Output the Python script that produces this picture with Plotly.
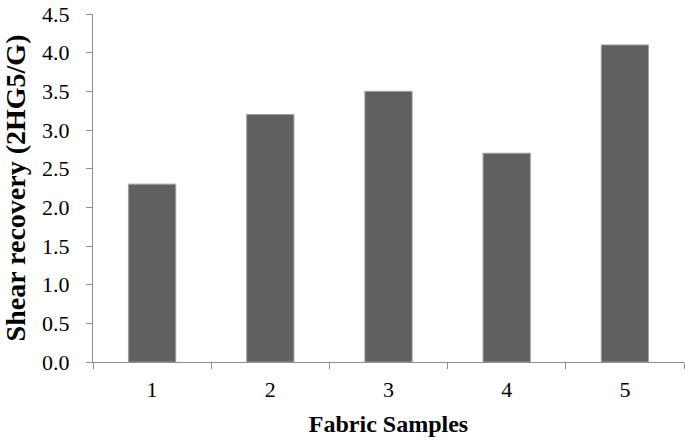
import plotly.graph_objects as go

samples = ["1", "2", "3", "4", "5"]
shear_recovery = [2.3, 3.2, 3.5, 2.7, 4.1]

fig = go.Figure()
fig.add_trace(go.Bar(
    x=samples, y=shear_recovery,
    marker=dict(color='#606060', line=dict(color='#a0a0a0', width=1)),
))

serif = 'Liberation Serif'
tick_font = dict(family=serif, size=22, color='black')

fig.update_layout(
    width=685, height=441,
    margin=dict(l=93, r=1, t=14, b=79),
    plot_bgcolor='white', paper_bgcolor='white',
    bargap=0.6,
    showlegend=False,
    font=dict(family=serif, size=22, color='black'),
    xaxis=dict(
        type='category', tickson='boundaries', automargin=False,
        ticks='outside', ticklen=6, tickcolor='#8c8c8c',
        showline=True, linecolor='#8c8c8c', linewidth=1,
        showgrid=False,
        tickfont=tick_font, ticklabelstandoff=8,
        title=dict(text='<b>Fabric Samples</b>', standoff=13,
                   font=dict(family=serif, size=24, color='black')),
    ),
    yaxis=dict(
        range=[0, 4.5], dtick=0.5, tickformat='.1f', automargin=False,
        ticks='outside', ticklen=6, tickcolor='#8c8c8c',
        showline=True, linecolor='#8c8c8c', linewidth=1,
        showgrid=False, zeroline=False,
        tickfont=tick_font, ticklabelstandoff=12,
        title=dict(text='<b>Shear recovery (2HG5/G)</b>', standoff=12,
                   font=dict(family=serif, size=28, color='black')),
    ),
)

# the page has an 8px body margin by default; drop it so the chart sits at 0,0
fig.write_html("out.html", config={'displayModeBar': False},
               post_script="document.body.style.margin='0';")
